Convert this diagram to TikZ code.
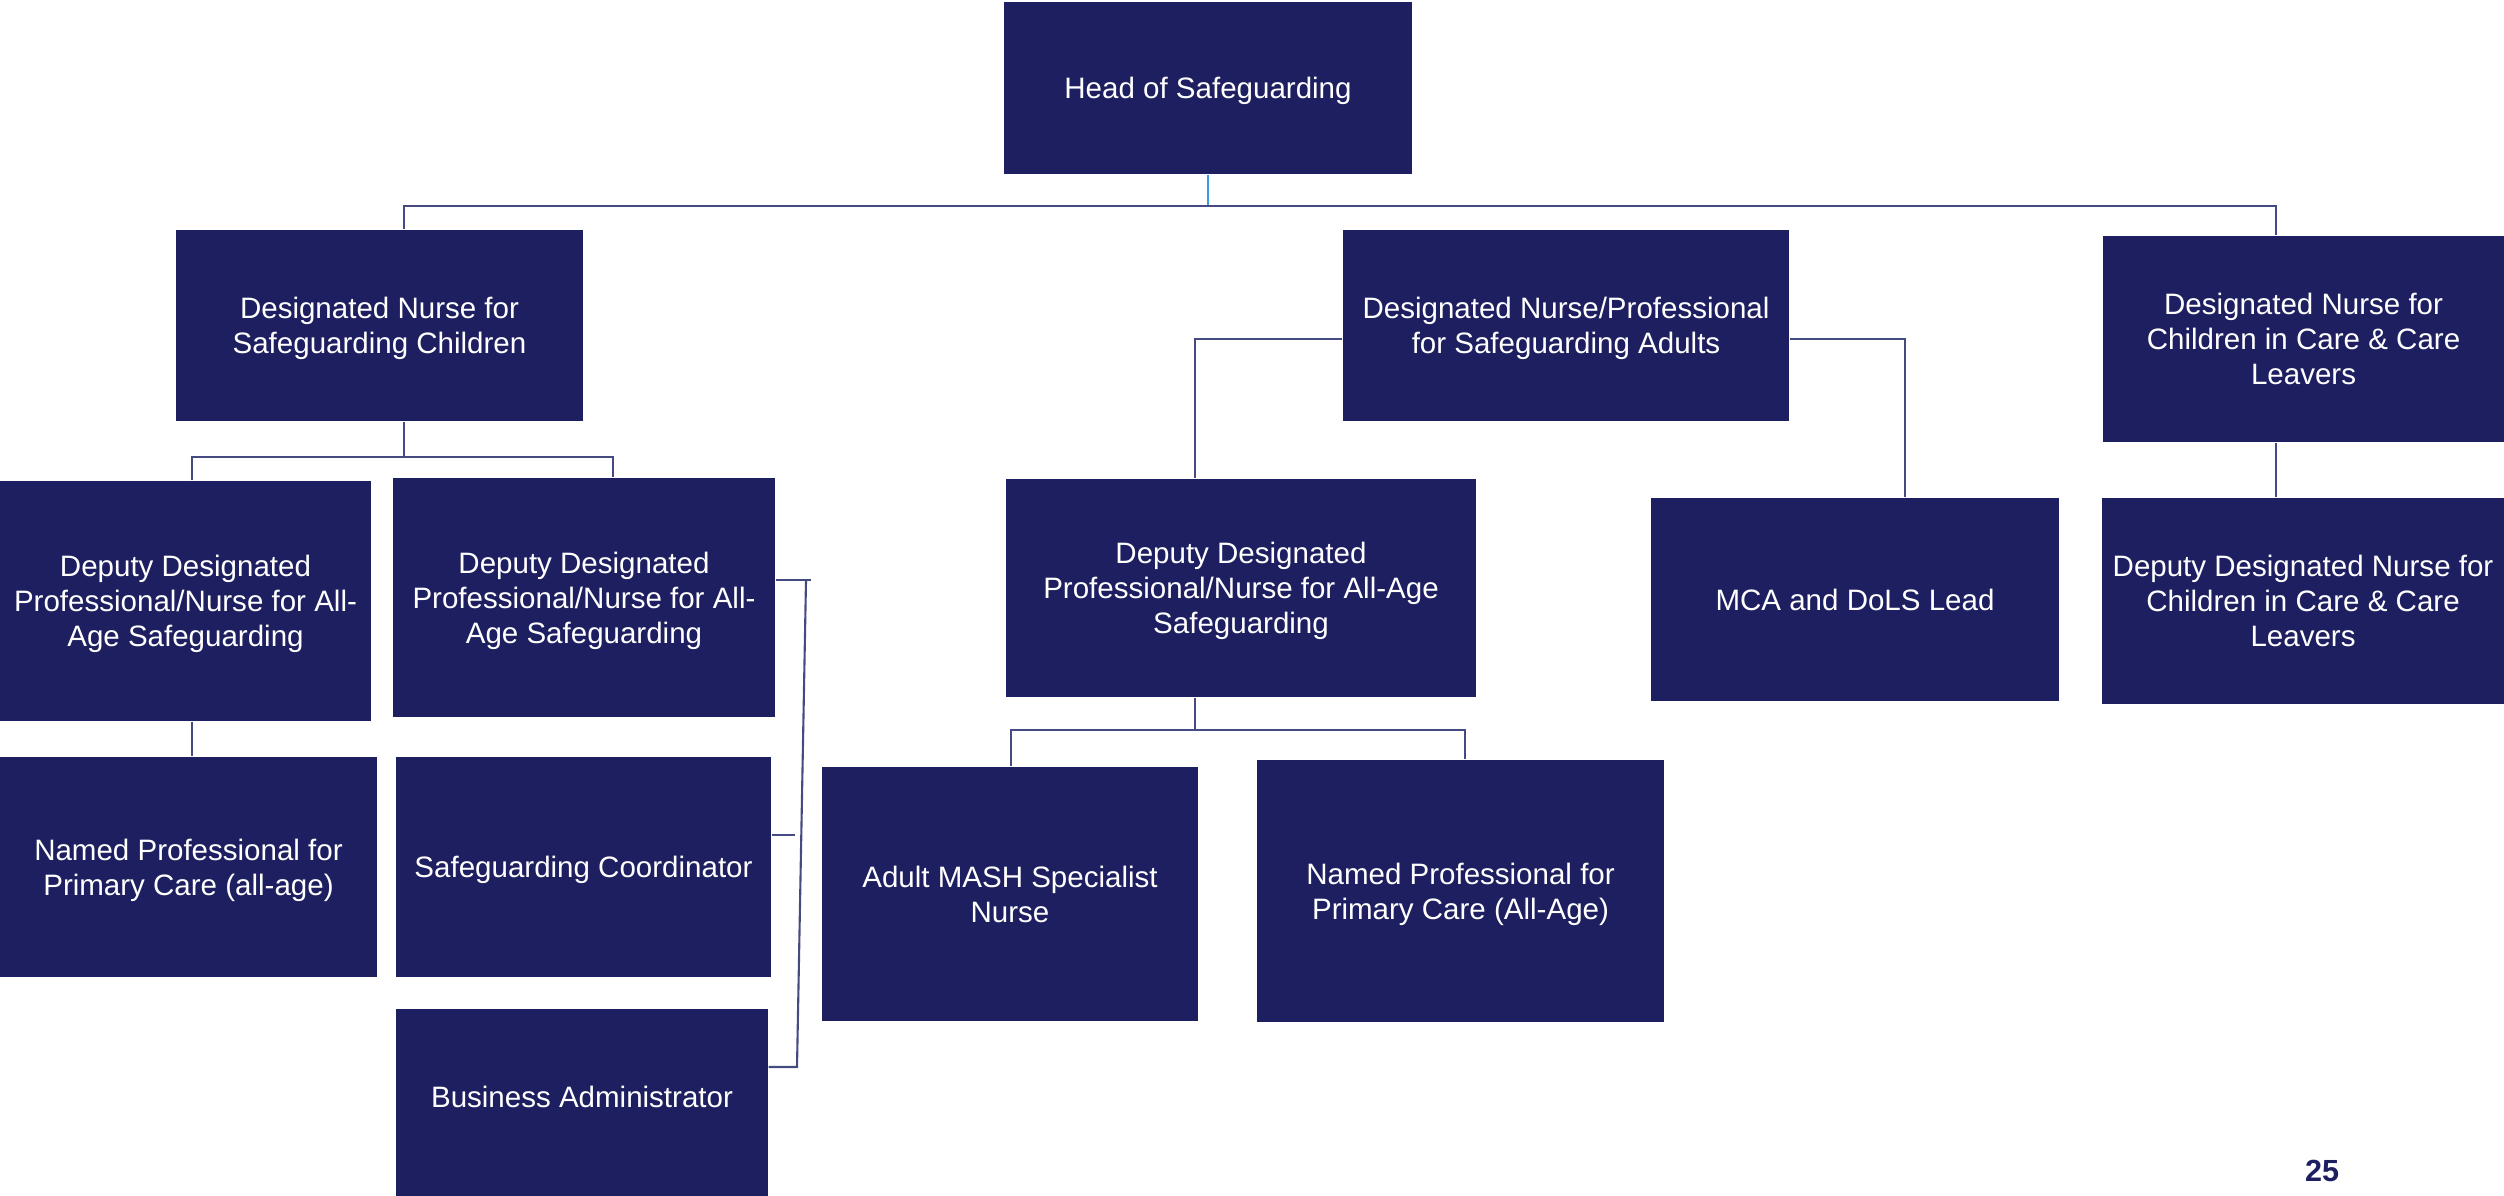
\documentclass[tikz,border=0pt]{standalone}
\usepackage{fontspec}
\setmainfont{Liberation Sans}
\usepackage{xcolor}
\usepackage{tikz}
\usetikzlibrary{positioning}

\definecolor{navy}{RGB}{30,31,96}
\definecolor{linkgrey}{RGB}{70,74,130}
\definecolor{leadblue}{RGB}{60,155,225}

\begin{document}
\begin{tikzpicture}[
  font=\fontsize{8.4}{10}\selectfont,
  role/.style={fill=navy, text=white, align=center, inner sep=0pt, text depth=-0.9pt},
  link/.style={draw=linkgrey, line width=0.6pt},
  lead/.style={draw=leadblue, line width=0.6pt},
]
\useasboundingbox (0,0) rectangle (25.04,-11.96);

% ============ TOP: head ============
\node[role, minimum width=4.08cm, minimum height=1.72cm] (head) at (12.08,-0.88) {Head of Safeguarding};

% ============ ROW 1: designated leads ============
\node[role, minimum width=4.07cm, minimum height=1.91cm] (dnsc)  at (3.795,-3.255) {Designated Nurse for\\Safeguarding Children};
\node[role, minimum width=4.46cm, minimum height=1.91cm] (dnpa)  at (15.66,-3.255) {Designated Nurse/Professional\\for Safeguarding Adults};
\node[role, minimum width=4.01cm, minimum height=2.06cm] (dncic) at (23.035,-3.39) {Designated Nurse for\\Children in Care \& Care\\Leavers};

\coordinate (busL) at (4.04,-2.06);
\coordinate (busR) at (22.76,-2.06);
\draw[lead] (head.south) -- (head.south |- busL);
\draw[link] (busL |- dnsc.north) -- (busL) -- (busR) -- (busR |- dncic.north);

% ============ LEFT: children ============
\node[role, minimum width=3.71cm, minimum height=2.40cm] (dep1) at (1.855,-6.01) {Deputy Designated\\Professional/Nurse for All-\\Age Safeguarding};
\node[role, minimum width=3.82cm, minimum height=2.39cm] (dep2) at (5.84,-5.975) {Deputy Designated\\Professional/Nurse for All-\\Age Safeguarding};
\node[role, minimum width=3.77cm, minimum height=2.20cm] (npc1)  at (1.885,-8.67) {Named Professional for\\Primary Care (all-age)};
\node[role, minimum width=3.75cm, minimum height=2.20cm] (coord) at (5.835,-8.67) {Safeguarding Coordinator};
\node[role, minimum width=3.72cm, minimum height=1.87cm, text depth=3.5pt] (admin) at (5.82,-11.025) {Business Administrator};

\coordinate (cbus) at (4.04,-4.57);
\coordinate (cL) at (1.92,-4.57);
\coordinate (cR) at (6.13,-4.57);
\draw[link] (busL |- dnsc.south) -- (cbus);
\draw[link] (cL |- dep1.north) -- (cL) -- (cR) -- (cR |- dep2.north);
\draw[link] (cL |- dep1.south) -- (cL |- npc1.north);

\coordinate (brT) at (8.06,-5.80);
\coordinate (brS) at (7.95,-8.35);
\coordinate (brB) at (7.97,-10.67);
\draw[link] (dep2.east |- brT) -- ([xshift=0.5mm]brT);
\draw[link] (brT) -- (brB) -- (admin.east |- brB);
\draw[link] (coord.east |- brS) -- (brS);

% ============ MIDDLE: adults ============
\node[role, minimum width=4.70cm, minimum height=2.18cm] (depmid) at (12.41,-5.88) {Deputy Designated\\Professional/Nurse for All-Age\\Safeguarding};
\node[role, minimum width=3.76cm, minimum height=2.54cm] (mash) at (10.10,-8.94) {Adult MASH Specialist\\Nurse};
\node[role, minimum width=4.07cm, minimum height=2.62cm] (npc2) at (14.605,-8.91) {Named Professional for\\Primary Care (All-Age)};
\node[role, minimum width=4.08cm, minimum height=2.03cm] (mca)  at (18.55,-5.995) {MCA and DoLS Lead};

\coordinate (aL) at (11.95,-3.39);
\coordinate (aR) at (19.05,-3.39);
\draw[link] (dnpa.west |- aL) -- (aL) -- (aL |- depmid.north);
\draw[link] (dnpa.east |- aR) -- (aR) -- (aR |- mca.north);

\coordinate (mbus) at (11.95,-7.30);
\coordinate (mL) at (10.11,-7.30);
\coordinate (mR) at (14.65,-7.30);
\draw[link] (mbus |- depmid.south) -- (mbus);
\draw[link] (mL |- mash.north) -- (mL) -- (mR) -- (mR |- npc2.north);

% ============ RIGHT: children in care ============
\node[role, minimum width=4.02cm, minimum height=2.06cm] (depcic) at (23.03,-6.01) {Deputy Designated Nurse for\\Children in Care \& Care\\Leavers};
\draw[link] (busR |- dncic.south) -- (busR |- depcic.north);

% page number
\node[font=\fontsize{8.7}{10}\selectfont\bfseries, text=navy] (pageno) at (23.22,-11.71) {25};

\end{tikzpicture}
\end{document}
